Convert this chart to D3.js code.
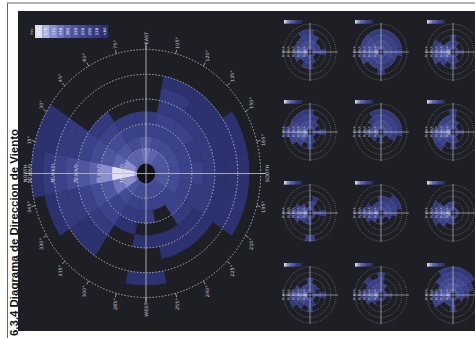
<!DOCTYPE html>
<html>
<head>
<meta charset="utf-8">
<script src="https://cdn.jsdelivr.net/npm/d3@7"></script>
<style>
  html, body { margin: 0; padding: 0; background: #ffffff; }
  svg { display: block; }
</style>
</head>
<body>
<svg id="chart" width="475" height="338"></svg>
<script>
// ---------------------------------------------------------------
// Data
// ---------------------------------------------------------------
const directions = ["N","NNE","NE","ENE","E","ESE","SE","SSE","S","SSW","SW","WSW","W","WNW","NW","NNW"];
const speedEdges = [0, 5, 10, 15, 20, 25, 30, 35, 40, 45, 50];   // km/h
const speedRings = [10, 20, 30, 40, 50];                          // km/h

// hours per 5 km/h speed bin, one array per direction (annual rose)
const hoursN   = [560, 690, 660, 470, 380, 300, 230, 160, 100, 50];
const hoursNNE = [400, 470, 380, 280, 210, 150, 100, 70, 40, 20];
const hoursNE  = [360, 360, 280, 200, 130, 80, 0, 0, 0, 0];
const hoursENE = [330, 330, 250, 170, 90, 0, 0, 0, 0, 0];
const hoursE   = [380, 430, 300, 190, 110, 0, 0, 0, 0, 0];
const hoursESE = [320, 320, 250, 190, 140, 100, 70, 40, 0, 0];
const hoursSE  = [300, 290, 230, 170, 130, 90, 60, 30, 0, 0];
const hoursSSE = [280, 270, 210, 160, 110, 80, 50, 30, 20, 0];
const hoursS   = [310, 300, 240, 180, 130, 90, 60, 40, 20, 0];
const hoursSSW = [290, 280, 220, 160, 120, 80, 50, 30, 20, 0];
const hoursSW  = [270, 250, 190, 140, 90, 60, 40, 0, 0, 0];
const hoursWSW = [260, 210, 160, 0, 0, 60, 40, 0, 0, 0];
const hoursW   = [280, 240, 170, 110, 0, 50, 0, 0, 30, 0];
const hoursWNW = [280, 230, 160, 100, 60, 0, 0, 0, 0, 0];
const hoursNW  = [310, 300, 240, 180, 130, 90, 60, 30, 0, 0];
const hoursNNW = [420, 480, 390, 290, 220, 160, 110, 70, 40, 0];
const annualHours = [hoursN, hoursNNE, hoursNE, hoursENE, hoursE, hoursESE, hoursSE, hoursSSE,
                     hoursS, hoursSSW, hoursSW, hoursWSW, hoursW, hoursWNW, hoursNW, hoursNNW];

// frequency classes (hours)
const classThresholds = [64, 128, 192, 256, 320, 384, 448, 512, 576];
const legendLabels = ["640", "576", "512", "448", "384", "320", "256", "192", "128", "<64"];
const legendTitle = "hrs";

// monthly roses: frequency class per direction for 10 km/h bins (0-10 ... 40-50), "." = no records
const monthSpeedEdges = [0, 10, 20, 30, 40, 50];
const ene = ["8642.","642..","53...","42...","432..","32...","31...","2....","321..","2....","2....","31...","321..","42...","531..","6421."];
const feb = ["8631.","641..","42...","3....","32...","321..","2....","2....","321..","2....","2....","2....","31..2","31...","42...","642.."];
const mar = ["86421","6432.","5321.","4321.","4321.","321..","32...","2....","321..","2....","2....","21...","321..","42...","542..","7532."];
const abr = ["853..","642..","532..","4321.","4321.","432..","32...","32...","321..","2....","2....","21...","321..","321..","42...","642.."];
const may = ["8531.","642..","5321.","432..","4321.","32...","2....","2....","21...","1....","1....","1....","2....","2....","31...","642.."];
const jun = ["8531.","631..","42...","32...","321..","321..","3321.","4321.","432..","32...","2....","2....","21...","2....","32...","531.."];
const jul = ["642..","53...","431..","4321.","4321.","4321.","4321.","4321.","4321.","321..","2....","2....","21...","2....","31...","52..."];
const ago = ["8532.","6432.","5432.","5321.","5321.","4321.","4321.","4321.","4321.","432..","321..","321..","4321.","432..","532..","6432."];
const sep = ["8532.","643..","5432.","54321","54321","44321","43321","4321.","321..","32...","2....","2....","321..","32...","42...","6432."];
const oct = ["8642.","6431.","53...","42...","32...","2....","2....","2....","2....","1....","1....","2....","31...","42...","532..","7531."];
const nov = ["8642.","743..","542..","432..","4321.","32...","2....","2....","21...","1....","2....","21...","321..","42...","5321.","7532."];
const dic = ["8642.","7431.","53...","42...","421..","31...","2....","2....","21...","2....","2....","21...","321..","42...","542..","7532."];
const months = [ene, feb, mar, abr, may, jun, jul, ago, sep, oct, nov, dic];

const titleText = "6.3.4 Diagrama de Direccion de Viento";

// ---------------------------------------------------------------
// Styling helpers
// ---------------------------------------------------------------
const palette = ["#2c3270", "#333a7e", "#3a4289", "#434b94", "#4e56a0",
                 "#5c64ae", "#6e75be", "#8a8fd0", "#afb2e2", "#dcdcf2"];
const colour = d3.scaleThreshold().domain(classThresholds).range(palette);
const classColour = d3.scaleOrdinal().domain(d3.range(10)).range(palette);
const sectorWidth = 2 * Math.PI / directions.length;
const arc = d3.arc();
const toRad = d => d * Math.PI / 180;

const svg = d3.select("#chart");

// page frame
svg.append("line").attr("x1", 7).attr("y1", 3).attr("x2", 475).attr("y2", 3)
  .attr("stroke", "#666").attr("stroke-width", 1);
svg.append("line").attr("x1", 7.5).attr("y1", 3).attr("x2", 7.5).attr("y2", 338)
  .attr("stroke", "#666").attr("stroke-width", 1);

// dark plotting panel
svg.append("rect").attr("x", 18).attr("y", 11).attr("width", 457).attr("height", 320)
  .attr("fill", "#1e1f25");

// title (page is laid out sideways)
svg.append("text")
  .attr("transform", "translate(17.5,336) rotate(-90)")
  .attr("font-family", "Liberation Sans, Arial, sans-serif")
  .attr("font-weight", "bold").attr("font-size", 11).attr("fill", "#111")
  .attr("textLength", 207).attr("lengthAdjust", "spacingAndGlyphs")
  .text(titleText);

// ---------------------------------------------------------------
// Annual rose
// ---------------------------------------------------------------
const main = svg.append("g").attr("transform", "translate(146,173.5) scale(0.925,1) rotate(-90)");
const r = d3.scaleLinear().domain([0, 50]).range([0, 124]);

const cells = [];
annualHours.forEach((bins, d) => {
  bins.forEach((h, b) => {
    if (h > 0) cells.push({ d, b, h });
  });
});

main.selectAll("path.cell").data(cells).join("path")
  .attr("class", "cell")
  .attr("d", c => arc({
    innerRadius: r(speedEdges[c.b]),
    outerRadius: r(speedEdges[c.b + 1]),
    startAngle: c.d * sectorWidth - sectorWidth / 2,
    endAngle: c.d * sectorWidth + sectorWidth / 2
  }))
  .attr("fill", c => colour(c.h))
  .attr("stroke", c => colour(c.h)).attr("stroke-width", 0.4);

// calm hole
main.append("circle").attr("r", 10).attr("fill", "#121216");

// speed rings
main.selectAll("circle.ring").data(speedRings).join("circle")
  .attr("class", "ring").attr("r", d => r(d))
  .attr("fill", "none").attr("stroke", "#d6d6e0").attr("stroke-width", 0.8)
  .attr("stroke-dasharray", "1.6,1.8");

// axis cross
main.append("line").attr("x1", 0).attr("y1", -130).attr("x2", 0).attr("y2", 130)
  .attr("stroke", "#b8b8c4").attr("stroke-width", 0.9);
main.append("line").attr("x1", -130).attr("y1", 0).attr("x2", 130).attr("y2", 0)
  .attr("stroke", "#b8b8c4").attr("stroke-width", 0.9);

// compass ticks and labels every 15°
const compassAngles = d3.range(0, 360, 15);
const cardinalNames = { 0: "NORTH", 90: "EAST", 180: "SOUTH", 270: "WEST" };
main.selectAll("line.tick").data(compassAngles).join("line")
  .attr("class", "tick")
  .attr("x1", a => r(50) * Math.sin(toRad(a))).attr("y1", a => -r(50) * Math.cos(toRad(a)))
  .attr("x2", a => (r(50) + 4) * Math.sin(toRad(a))).attr("y2", a => -(r(50) + 4) * Math.cos(toRad(a)))
  .attr("stroke", "#cfcfd8").attr("stroke-width", 0.7);

const labelR = r(50) + 5;
main.selectAll("text.deg").data(compassAngles).join("text")
  .attr("class", "deg")
  .attr("x", a => labelR * Math.sin(toRad(a)))
  .attr("y", a => -labelR * Math.cos(toRad(a)))
  .attr("text-anchor", a => {
    const s = Math.sin(toRad(a));
    return s > 0.3 ? "start" : s < -0.3 ? "end" : "middle";
  })
  .attr("dy", a => {
    const c = Math.cos(toRad(a));
    return c > 0.3 ? "0em" : c < -0.3 ? "0.75em" : "0.35em";
  })
  .attr("font-family", "DejaVu Sans, sans-serif").attr("font-size", 5)
  .attr("fill", "#c8c8d2")
  .text(a => cardinalNames[a] || `${a}°`);

// speed labels along the north axis
main.selectAll("text.speed").data(speedRings).join("text")
  .attr("class", "speed")
  .attr("x", 0).attr("y", d => -r(d) - 0.5)
  .attr("text-anchor", "middle")
  .attr("font-family", "DejaVu Sans, sans-serif").attr("font-size", 4.6)
  .attr("fill", "#e4e4ee")
  .text(d => `${d} km/h`);

// legend
const legend = svg.append("g").attr("transform", "translate(35,25)");
const cellW = 7.3, cellH = 13;
const legendColours = palette.slice().reverse();
legend.selectAll("rect").data(legendLabels).join("rect")
  .attr("x", (d, i) => i * cellW).attr("y", 0)
  .attr("width", cellW + 0.2).attr("height", cellH)
  .attr("fill", (d, i) => legendColours[i]);
legend.selectAll("text.lab").data(legendLabels).join("text")
  .attr("class", "lab")
  .attr("transform", (d, i) => `translate(${i * cellW + cellW / 2 + 1.4},${cellH / 2}) rotate(-90)`)
  .attr("text-anchor", "middle")
  .attr("font-family", "DejaVu Sans, sans-serif").attr("font-size", 3.8)
  .attr("fill", "#f4f4ff")
  .text(d => d);
legend.append("text")
  .attr("transform", `translate(-2,${cellH / 2}) rotate(-90)`)
  .attr("text-anchor", "middle")
  .attr("font-family", "DejaVu Sans, sans-serif").attr("font-size", 3.8)
  .attr("fill", "#c8c8d2")
  .text(legendTitle);

// ---------------------------------------------------------------
// Monthly roses
// ---------------------------------------------------------------
const colX = [310, 381, 453];
const rowY = [295, 213, 132, 52];
const rs = d3.scaleLinear().domain([0, 50]).range([0, 28]);

months.forEach((levels, i) => {
  const cx = colX[Math.floor(i / 4)], cy = rowY[i % 4];

  // mini colour key above the rose
  const key = svg.append("g").attr("transform", `translate(${cx - 26},${cy - 32})`);
  key.selectAll("rect").data(legendColours).join("rect")
    .attr("x", (d, k) => k * 1.8).attr("y", 0)
    .attr("width", 1.9).attr("height", 3.6)
    .attr("fill", d => d);

  const g = svg.append("g").attr("transform", `translate(${cx},${cy}) scale(0.93,1) rotate(-90)`);
  const mcells = [];
  levels.forEach((str, d) => {
    str.split("").forEach((ch, b) => {
      if (ch !== ".") mcells.push({ d, b, k: +ch });
    });
  });
  g.selectAll("path").data(mcells).join("path")
    .attr("d", c => arc({
      innerRadius: rs(monthSpeedEdges[c.b]),
      outerRadius: rs(monthSpeedEdges[c.b + 1]),
      startAngle: c.d * sectorWidth - sectorWidth / 2,
      endAngle: c.d * sectorWidth + sectorWidth / 2
    }))
    .attr("fill", c => classColour(c.k))
    .attr("stroke", c => classColour(c.k)).attr("stroke-width", 0.2);

  g.append("circle").attr("r", 2.6).attr("fill", "#121216");

  g.selectAll("circle.ring").data(speedRings).join("circle")
    .attr("class", "ring").attr("r", d => rs(d))
    .attr("fill", "none").attr("stroke", "#cfcfd8").attr("stroke-width", 0.45)
    .attr("stroke-dasharray", "0.8,1.2");

  g.append("line").attr("x1", 0).attr("y1", -30).attr("x2", 0).attr("y2", 30)
    .attr("stroke", "#d8d8e0").attr("stroke-width", 0.6);
  g.append("line").attr("x1", -29).attr("y1", 0).attr("x2", 29).attr("y2", 0)
    .attr("stroke", "#d8d8e0").attr("stroke-width", 0.6);

  g.selectAll("text.sp").data(speedRings).join("text")
    .attr("class", "sp")
    .attr("x", 0).attr("y", d => -rs(d) - 0.3)
    .attr("text-anchor", "middle")
    .attr("font-family", "DejaVu Sans, sans-serif").attr("font-size", 2.6)
    .attr("fill", "#ececf4")
    .text(d => `${d} km/h`);
});
</script>
</body>
</html>
